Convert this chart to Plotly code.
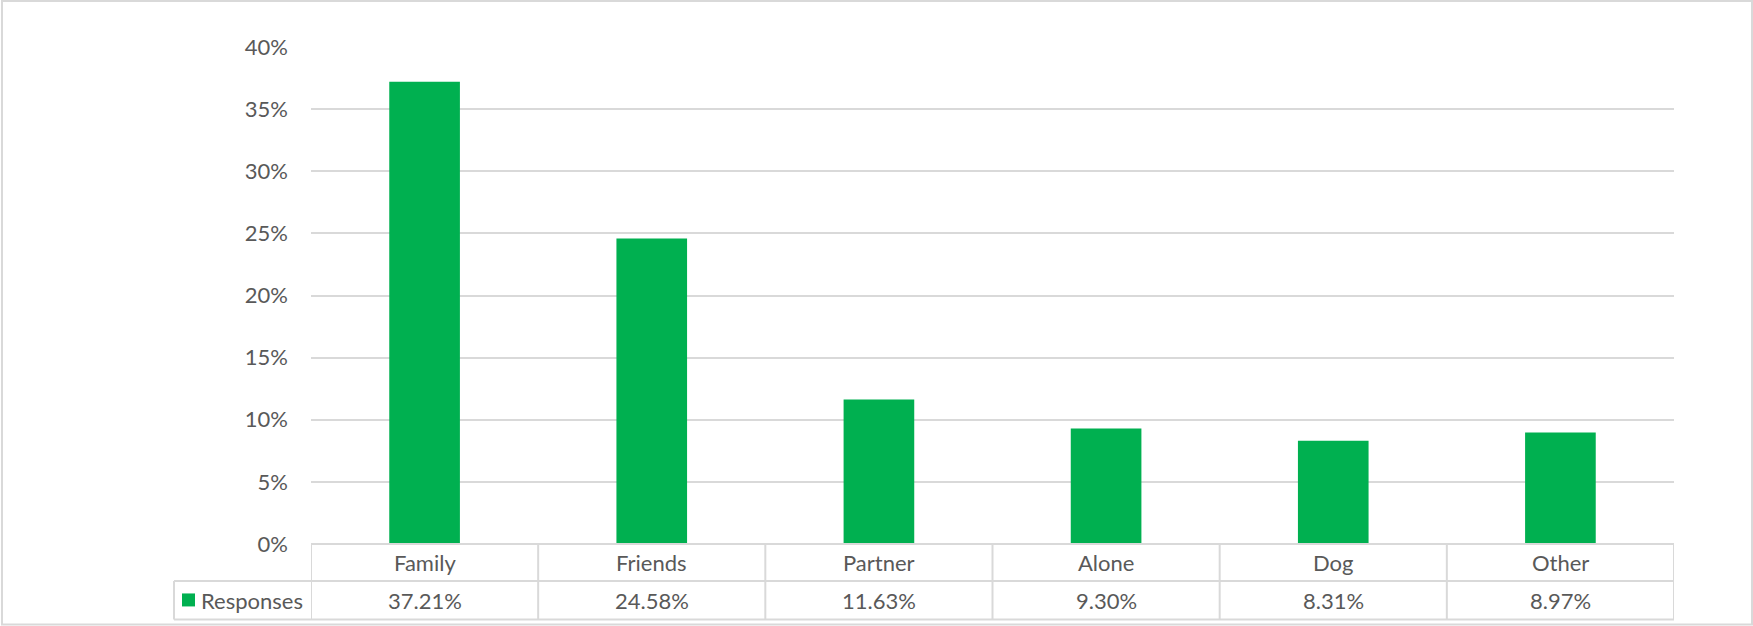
import plotly.graph_objects as go

# data
categories = ["Family", "Friends", "Partner", "Alone", "Dog", "Other"]
responses = [0.3721, 0.2458, 0.1163, 0.0930, 0.0831, 0.0897]
series_name = "Responses"

W, H = 1753, 626
L, R, T, B = 311, 1674, 47, 544.5   # plot area in pixels
GREEN = "#00B050"
GRID = "#D9D9D9"
TEXT = "#595959"
FONT = "Lato, Open Sans, sans-serif"
FS = 22


def px_x(px):
    return (px - L) / (R - L)


def px_y(py):
    return (B - py) / (B - T)


fig = go.Figure()
fig.add_trace(go.Bar(x=categories, y=responses, name=series_name,
                     marker=dict(color=GREEN, line_width=0), showlegend=False))

fig.update_layout(
    width=W, height=H,
    margin=dict(l=L, r=W - R, t=T, b=H - B),
    paper_bgcolor="white", plot_bgcolor="white",
    bargap=0.689,
    font=dict(family=FONT, size=FS, color=TEXT),
)
fig.update_xaxes(showticklabels=False, showgrid=False, zeroline=False,
                 showline=False, range=[-0.5, len(categories) - 0.5])
fig.update_yaxes(range=[0, 0.40], dtick=0.05, tickformat=".0%",
                 showgrid=True, gridcolor=GRID, gridwidth=1.5,
                 zeroline=False, showline=False, ticklabelstandoff=22,
                 tickfont=dict(size=FS, color=TEXT))

line = dict(color=GRID, width=2)
row1, row2, row3 = 544.5, 581.5, 620
# table horizontal lines
fig.add_shape(type="line", xref="paper", yref="paper", x0=0, x1=1,
              y0=px_y(row1), y1=px_y(row1), line=line)
fig.add_shape(type="line", xref="paper", yref="paper", x0=px_x(174), x1=1,
              y0=px_y(row2), y1=px_y(row2), line=line)
fig.add_shape(type="line", xref="paper", yref="paper", x0=px_x(174), x1=1,
              y0=px_y(row3), y1=px_y(row3), line=line)
fig.add_shape(type="line", xref="paper", yref="paper", x0=px_x(174), x1=px_x(174),
              y0=px_y(row2), y1=px_y(row3), line=line)
# column dividers follow the category axis
for i in range(len(categories) + 1):
    fig.add_shape(type="line", xref="x", yref="paper", x0=i - 0.5, x1=i - 0.5,
                  y0=px_y(row1), y1=px_y(row3), line=line)

# table text
for i, (cat, val) in enumerate(zip(categories, responses)):
    fig.add_annotation(x=i, y=px_y((row1 + row2) / 2), xref="x", yref="paper",
                       text=cat, showarrow=False, yanchor="middle",
                       font=dict(size=FS, color=TEXT))
    fig.add_annotation(x=i, y=px_y((row2 + row3) / 2), xref="x", yref="paper",
                       text=f"{val * 100:.2f}%", showarrow=False, yanchor="middle",
                       font=dict(size=FS, color=TEXT))

# legend key in the table
fig.add_shape(type="rect", xref="paper", yref="paper",
              x0=px_x(182), x1=px_x(195), y0=px_y(594), y1=px_y(607),
              fillcolor=GREEN, line_width=0)
fig.add_annotation(x=px_x(199), y=px_y((row2 + row3) / 2), xref="paper", yref="paper",
                   text=series_name, showarrow=False, xanchor="left", yanchor="middle",
                   font=dict(size=FS, color=TEXT))

# outer chart border
fig.add_shape(type="rect", xref="paper", yref="paper",
              x0=px_x(2), x1=px_x(1752), y0=px_y(1), y1=px_y(625),
              line=dict(color=GRID, width=2), fillcolor="rgba(0,0,0,0)")

# drop the default page margin so the figure sits at the window origin
fig.write_html("out.html", config={"displayModeBar": False},
               post_script="document.body.style.margin='0';")
